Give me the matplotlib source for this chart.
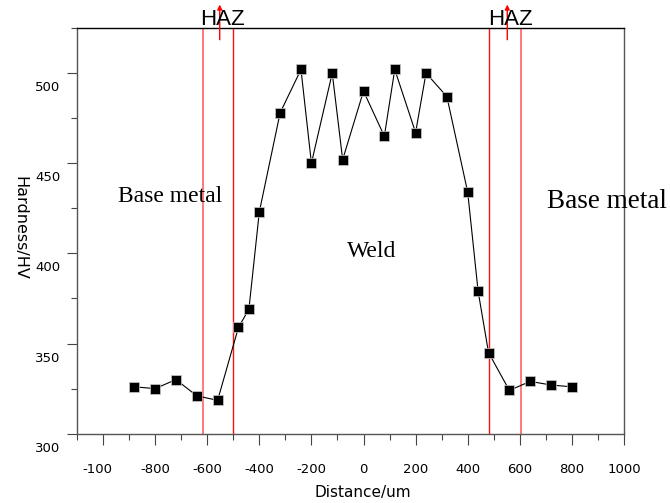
import matplotlib.pyplot as plt
import matplotlib.transforms as mtransforms
import numpy as np

# hardness profile across the weld
distance = [-880, -800, -720, -640, -560, -480, -440, -400, -320, -240, -200, -120, -80,
            0, 80, 120, 200, 240, 320, 400, 440, 480, 560, 640, 720, 800]
hardness = [326, 325, 330, 321, 318.5, 359, 369, 423, 478, 502, 450, 500, 452,
            490, 465, 502, 467, 500, 487, 434, 379, 345, 324, 329, 327, 326]

# zone borders (outer = base metal / HAZ, inner = HAZ / weld)
outer_borders = [-615, 605]
inner_borders = [-500, 480]
haz_marks = [-552, 552]

xticks = [-1000, -800, -600, -400, -200, 0, 200, 400, 600, 800, 1000]
xticklabels = ['-100', '-800', '-600', '-400', '-200', '0', '200', '400', '600', '800', '1000']
yticks = [300, 350, 400, 450, 500]

fig = plt.figure(figsize=(6.7, 5.03), dpi=100)
ax = fig.add_axes([0.1149, 0.1378, 0.8164, 0.8065])

for x in outer_borders:
    ax.axvline(x, color='#ff6f6f', lw=1.3)
for x in inner_borders:
    ax.axvline(x, color='#ff1010', lw=1.0)

ax.plot(distance, hardness, color='black', lw=0.8, marker='s', markersize=6.5,
        markerfacecolor='black', markeredgecolor='#cccccc', markeredgewidth=0.5)

# small red arrows above the HAZ
for x in haz_marks:
    ax.annotate('', xy=(x, 538), xytext=(x, 518.5), annotation_clip=False,
                arrowprops=dict(arrowstyle='-|>', color='red', lw=1.0,
                                mutation_scale=7, shrinkA=0, shrinkB=0))
    ax.text(x + 12, 530, 'HAZ', ha='center', va='center', fontsize=16,
            family='Liberation Sans', clip_on=False)

ax.text(-743, 431.5, 'Base metal', ha='center', va='center', fontsize=17,
        family='Liberation Serif')
ax.text(935, 429, 'Base metal', ha='center', va='center', fontsize=19.5,
        family='Liberation Serif', clip_on=False)
ax.text(32, 401, 'Weld', ha='center', va='center', fontsize=17,
        family='Liberation Serif')

ax.set_xlim(-1100, 1000)
ax.set_ylim(300, 525)
ax.set_xticks(xticks)
ax.set_xticklabels(xticklabels, fontsize=9.5)
ax.set_xticks(np.arange(-1100, 1001, 100), minor=True)
ax.set_yticks(yticks)
ax.set_yticklabels([str(v) for v in yticks], fontsize=9.5)
ax.set_yticks(np.arange(300, 526, 25), minor=True)

ax.tick_params(axis='x', which='major', length=8, width=0.8, color='#444444', pad=13)
ax.tick_params(axis='x', which='minor', length=4, width=0.8, color='#444444')
ax.tick_params(axis='y', which='major', length=7, width=0.8, color='#444444', pad=5)
ax.tick_params(axis='y', which='minor', length=4, width=0.8, color='#444444')

# y labels sit a bit below their ticks in the original
offset = mtransforms.ScaledTranslation(0, -13 / 100, fig.dpi_scale_trans)
for lbl in ax.get_yticklabels():
    lbl.set_transform(lbl.get_transform() + offset)
# the first x label is nudged left
first = ax.get_xticklabels()[0]
first.set_transform(first.get_transform() +
                    mtransforms.ScaledTranslation(-6 / 100, 0, fig.dpi_scale_trans))

for side in ['left', 'bottom', 'right']:
    ax.spines[side].set_color('#555555')
    ax.spines[side].set_linewidth(1.0)
ax.spines['top'].set_color('black')
ax.spines['top'].set_linewidth(1.0)

fig.text(314 / 670, 1 - 493 / 503, 'Distance/um', ha='left', va='center', fontsize=11)
fig.text(20 / 670, 1 - 228 / 503, 'Hardness/HV', ha='center', va='center',
         rotation=270, fontsize=11.5)

fig.savefig('out.png', dpi=100)
